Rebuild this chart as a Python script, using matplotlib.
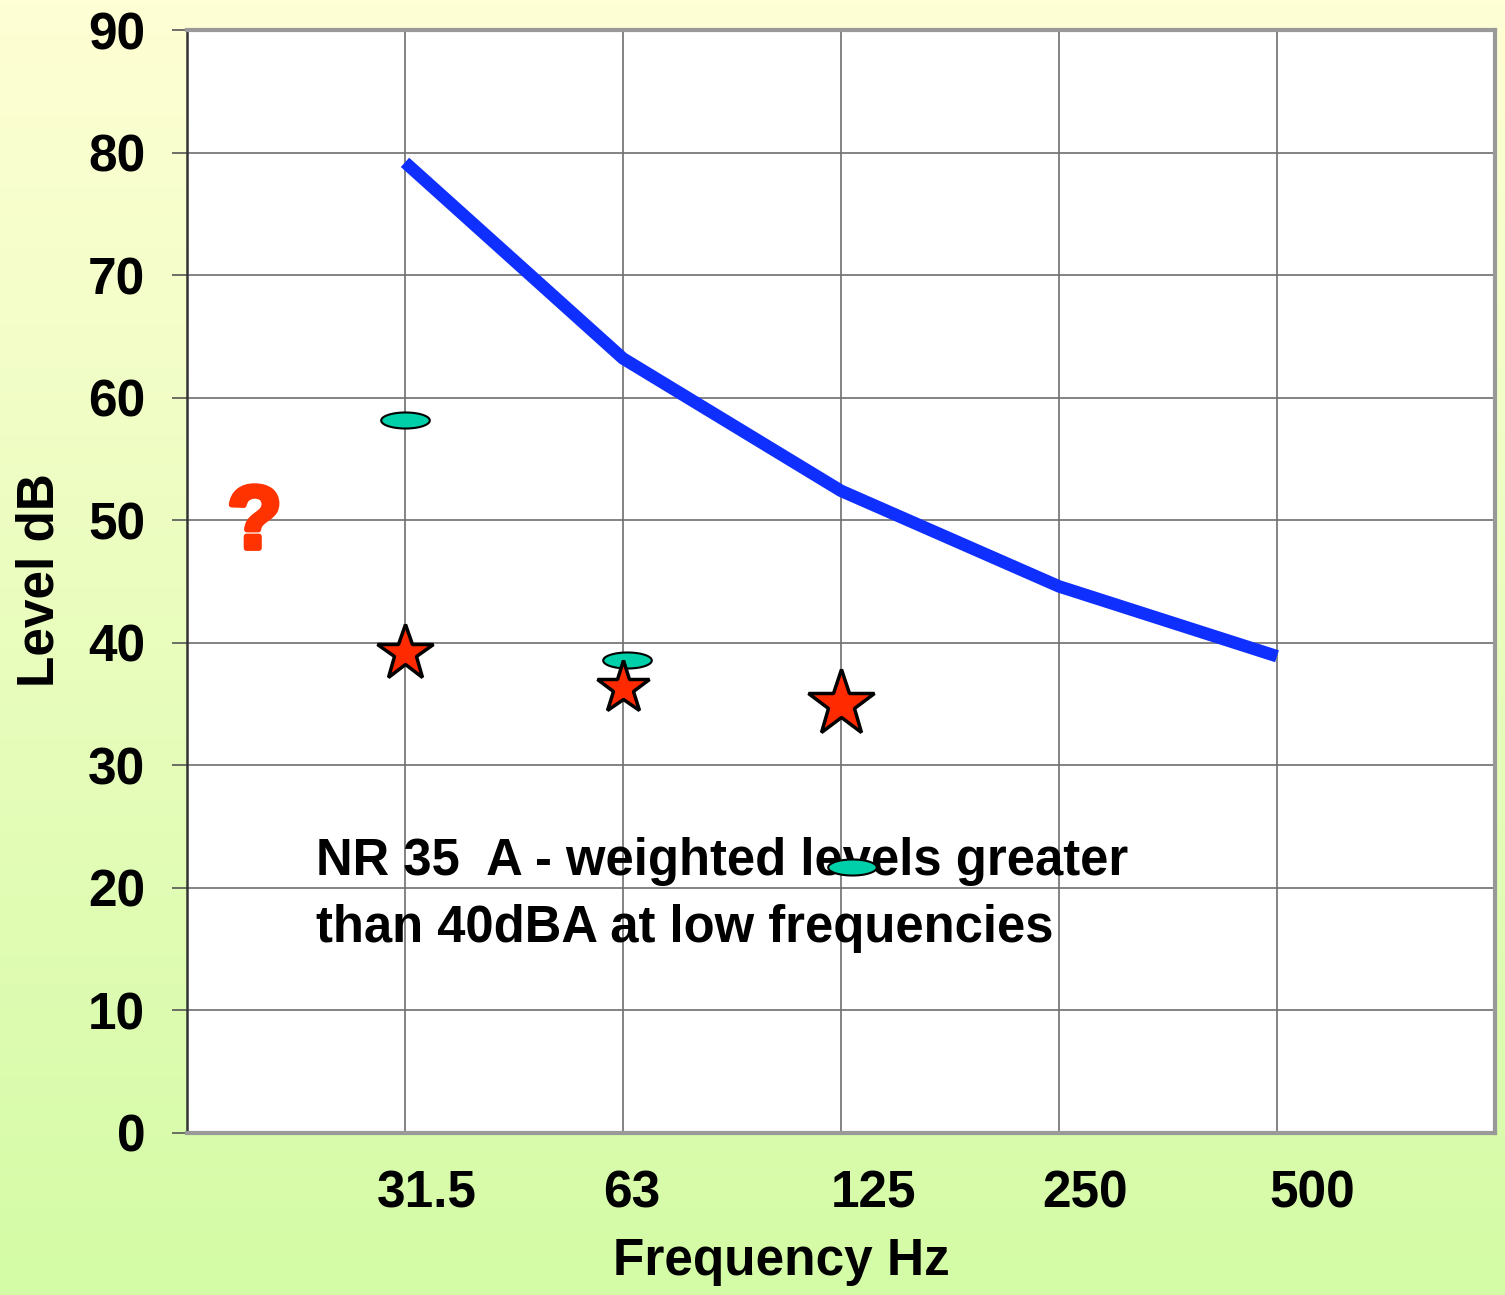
import numpy as np
import matplotlib
matplotlib.use("Agg")
import matplotlib.pyplot as plt
import matplotlib.patheffects as pe
from matplotlib.path import Path
from matplotlib.colors import LinearSegmentedColormap
from matplotlib.transforms import blended_transform_factory

# ---- data ----
freq_labels = ["31.5", "63", "125", "250", "500"]
nr35_curve = [79.2, 63.2, 52.4, 44.6, 38.9]          # blue NR 35 curve
ellipse_x = [1.0, 2.02, 3.05]                          # category position
ellipse_levels = [58.2, 38.6, 21.7]
star_levels = [39.2, 36.3, 35.0]
star_sizes = [42, 40, 50]
note_lines = ["NR 35  A - weighted levels greater", "than 40dBA at low frequencies"]

plt.rcParams['font.family'] = ['Liberation Sans', 'DejaVu Sans']
plt.rcParams['font.weight'] = 'bold'

fig = plt.figure(figsize=(15.05, 12.95), dpi=100)

# background gradient
bg = fig.add_axes([0, 0, 1, 1], zorder=-10)
cmap = LinearSegmentedColormap.from_list("bg", ["#FEFFD4", "#D4FBA6"])
grad = np.linspace(0, 1, 256).reshape(-1, 1)
bg.imshow(grad, aspect='auto', cmap=cmap, extent=[0, 1, 0, 1], origin='upper')
bg.set_axis_off()

ax = fig.add_axes([187/1505, 1 - 1133/1295, (1495-187)/1505, (1133-30)/1295])
ax.set_facecolor('white')
ax.set_xlim(0, 6)
ax.set_ylim(0, 90)

cats = np.arange(1, len(freq_labels) + 1)

# grid
ax.set_yticks(np.arange(0, 91, 10))
ax.set_xticks(cats)
ax.grid(True, color='#6e6e6e', linewidth=1.2)
ax.set_axisbelow(True)
ax.tick_params(axis='x', length=0, labelbottom=False)
ax.tick_params(axis='y', length=11, width=1.2, color='#555555', pad=19,
               labelsize=37)
for lab in ax.get_yticklabels():
    lab.set_fontweight('bold')

for side in ['top', 'right', 'bottom']:
    ax.spines[side].set_color('#999999')
    ax.spines[side].set_linewidth(3)
ax.spines['left'].set_color('#333333')
ax.spines['left'].set_linewidth(1.8)

# blue curve
ax.plot(cats, nr35_curve, color='#0F2FFF', linewidth=9,
        solid_capstyle='butt', solid_joinstyle='round', zorder=3)

# teal ellipses (custom marker)
t = np.linspace(0, 2 * np.pi, 60)
ell = Path(np.column_stack([np.cos(t), 0.33 * np.sin(t)]), closed=True)
ax.plot(ellipse_x, ellipse_levels, linestyle='none', marker=ell,
        markersize=35, markerfacecolor='#00D0AA', markeredgecolor='black',
        markeredgewidth=1.5, zorder=5)

# red stars
for x, y, s in zip(cats[:3], star_levels, star_sizes):
    ax.plot([x], [y], linestyle='none', marker='*', markersize=s,
            markerfacecolor='#FF2A00', markeredgecolor='black',
            markeredgewidth=2.5, zorder=6)

# question mark
ax.text(0.31, 49.6, "?", color='#FF3300', fontsize=64, fontweight='bold',
        ha='center', va='center', zorder=6,
        path_effects=[pe.withStroke(linewidth=4, foreground='#FF3300')])

# annotation text
for i, line in enumerate(note_lines):
    ax.text(0.59, 21.05 - i * 5.45, line, fontsize=36.5, fontweight='bold',
            color='black', ha='left', va='baseline', zorder=4)

# x tick labels (offset like the original)
label_offsets = [0.10, 0.04, 0.15, 0.12, 0.16]
trans = blended_transform_factory(ax.transData, ax.transAxes)
for c, lab, off in zip(cats, freq_labels, label_offsets):
    ax.text(c + off, -0.055, lab, transform=trans, fontsize=37,
            fontweight='bold', ha='center', va='center')

fig.text(781/1505, 1 - 1262/1295, "Frequency Hz", fontsize=37,
         fontweight='bold', ha='center', va='center')
fig.text(40/1505, 1 - 580/1295, "Level dB", fontsize=37, fontweight='bold',
         ha='center', va='center', rotation=90)

fig.savefig("out.png", dpi=100)
